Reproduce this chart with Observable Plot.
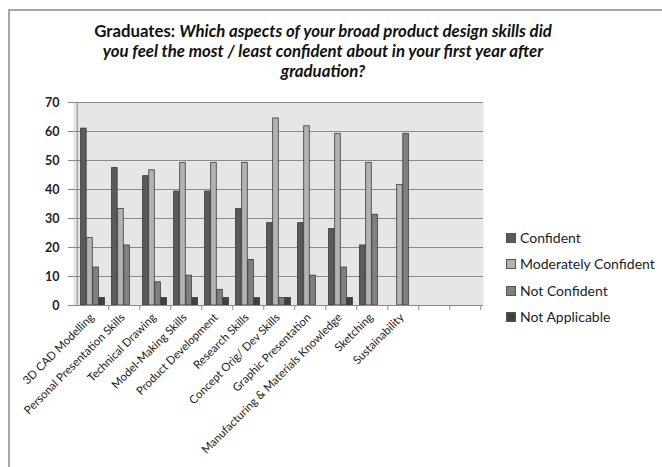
<!DOCTYPE html>
<html>
<head>
<meta charset="utf-8">
<script src="https://cdn.jsdelivr.net/npm/d3@7"></script>
<script src="https://cdn.jsdelivr.net/npm/@observablehq/plot@0.6"></script>
<style>
  html, body { margin: 0; padding: 0; background: #fff; }
  #wrap { position: relative; width: 662px; height: 467px; overflow: hidden; font-family: Lato, "Open Sans", sans-serif; }
  #border { position: absolute; left: 8px; top: 9px; width: 700px; height: 500px; border-top: 2px solid #a6a6a6; border-left: 2px solid #a6a6a6; box-sizing: border-box; }
  #title { position: absolute; left: 0; top: 21px; width: 646px; text-align: center; font-size: 16.8px; line-height: 20px; font-weight: bold; color: #111; }
  #chart { position: absolute; left: 0; top: 0; }
  #legend { position: absolute; left: 506px; top: 230px; font-size: 14px; color: #222; }
  .item { position: absolute; left: 0; white-space: nowrap; height: 16px; line-height: 16px; }
  .sw { display: inline-block; width: 8px; height: 8px; border: 1px solid #555; margin-right: 4px; vertical-align: 0px; }
</style>
</head>
<body>
<div id="wrap">
  <div id="border"></div>
  <div id="chart"></div>
  <div id="title">Graduates: <i>Which aspects of your broad product design skills did<br>you feel the most / least confident about in your first year after<br>graduation?</i></div>
  <div id="legend"></div>
</div>
<script>
const categories = [
  "3D CAD Modelling",
  "Personal Presentation Skills",
  "Technical Drawing",
  "Model-Making Skills",
  "Product Development",
  "Research Skills",
  "Concept Orig/ Dev Skills",
  "Graphic Presentation",
  "Manufacturing & Materials Knowledge",
  "Sketching",
  "Sustainability"
];
const emptySlots = ["\u200b", "\u200b\u200b"];
const seriesNames = ["Confident", "Moderately Confident", "Not Confident", "Not Applicable"];
const confident     = [61.0, 47.4, 44.6, 39.3, 39.3, 33.3, 28.4, 28.4, 26.4, 20.7, 0];
const moderately    = [23.3, 33.3, 46.6, 49.2, 49.2, 49.2, 64.5, 61.8, 59.2, 49.2, 41.6];
const notConfident  = [13.1, 20.7, 8.0, 10.3, 5.4, 15.7, 2.6, 10.3, 13.1, 31.3, 59.2];
const notApplicable = [2.6, 0, 2.6, 2.6, 2.6, 2.6, 2.6, 0, 2.6, 0, 0];
const yTicks = [0, 10, 20, 30, 40, 50, 60, 70];
const colors = ["#5a5a5a", "#b3b3b3", "#808080", "#404040"];

const seriesValues = [confident, moderately, notConfident, notApplicable];
const slots = [...categories, ...emptySlots];

const W = 662, H = 467;
const mL = 73, mR = 179, mT = 102, mB = 162;
const bw = (W - mL - mR) / slots.length;
const groupOffset = 3.6, barW = 6.1;

const marks = [
  Plot.frame({fill: "#e6e6e6", stroke: null}),
  Plot.gridY(yTicks.filter(t => t > 0), {stroke: "#8a8a8a", strokeOpacity: 1, strokeWidth: 1})
];
seriesValues.forEach((vals, i) => {
  const rows = categories.map((c, j) => ({category: c, series: seriesNames[i], value: vals[j]})).filter(d => d.value > 0);
  marks.push(Plot.barY(rows, {
    x: "category", y: "value", fill: "series",
    stroke: "#3a3a3a", strokeWidth: 0.8,
    insetLeft: groupOffset + barW * i,
    insetRight: bw - groupOffset - barW * (i + 1)
  }));
});
marks.push(
  Plot.ruleY([0], {stroke: "#8a8a8a"}),
  Plot.ruleX([slots[0]], {dx: -bw / 2, stroke: "#8a8a8a"}),
  Plot.ruleX(slots, {x: d => d, dx: bw / 2, y1: 0, y2: -5 * 70 / (H - mT - mB), stroke: "#8a8a8a"}),
  Plot.axisY({ticks: yTicks, tickSize: 5, tickPadding: 9, fontSize: 12.5, stroke: "#8a8a8a", color: "#222", label: null, fontWeight: "bold"}),
  Plot.axisX({ticks: slots, tickSize: 0, tickPadding: 10, tickRotate: -45, fontSize: 11.4, label: null, color: "#222", dx: -1})
);

const chart = Plot.plot({
  width: W, height: H,
  marginLeft: mL, marginRight: mR, marginTop: mT, marginBottom: mB,
  style: {fontFamily: "Lato, 'Open Sans', sans-serif", background: "transparent", overflow: "visible"},
  x: {domain: slots, padding: 0, type: "band"},
  y: {domain: [0, 70], clamp: false},
  color: {domain: seriesNames, range: colors},
  clip: false,
  marks
});
document.getElementById("chart").appendChild(chart);

const legend = document.getElementById("legend");
const legendTops = [0, 26, 53, 79];
seriesNames.forEach((name, i) => {
  const div = document.createElement("div");
  div.className = "item";
  div.style.top = legendTops[i] + "px";
  const sw = document.createElement("span");
  sw.className = "sw";
  sw.style.background = colors[i];
  div.appendChild(sw);
  div.appendChild(document.createTextNode(name));
  legend.appendChild(div);
});
</script>
</body>
</html>
